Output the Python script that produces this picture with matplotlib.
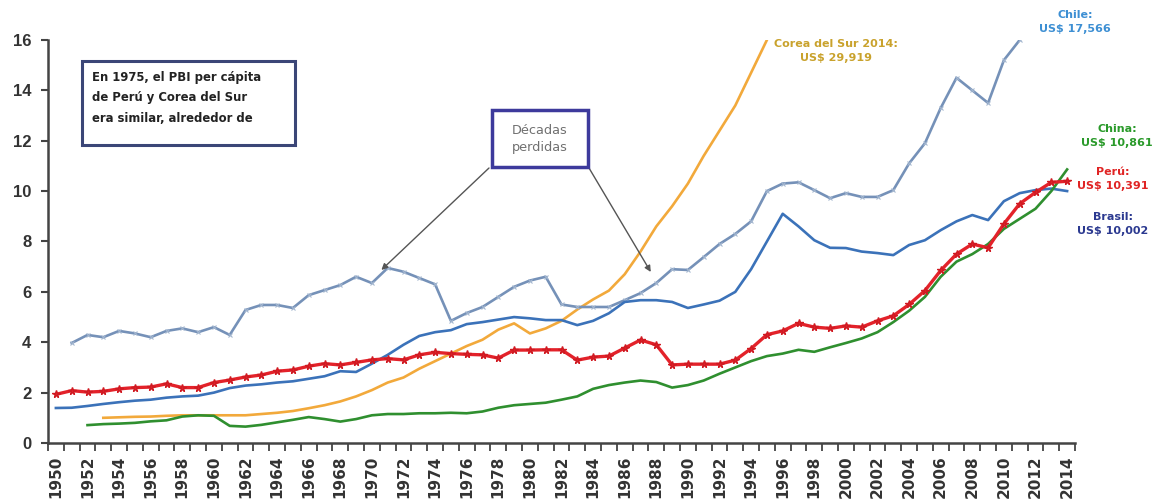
import matplotlib
matplotlib.use("Agg")
import matplotlib.pyplot as plt
from matplotlib.patches import Rectangle

# PBI per cápita (miles de US$ de 2014, PPA)
years = list(range(1950, 2015))

peru = [1.93, 2.08, 2.02, 2.05, 2.15, 2.20, 2.22, 2.35, 2.20, 2.20,
        2.40, 2.50, 2.62, 2.70, 2.85, 2.90, 3.05, 3.15, 3.10, 3.20,
        3.30, 3.35, 3.30, 3.50, 3.60, 3.55, 3.52, 3.50, 3.37, 3.69,
        3.69, 3.70, 3.70, 3.29, 3.41, 3.45, 3.77, 4.09, 3.90, 3.10,
        3.13, 3.13, 3.13, 3.29, 3.75, 4.30, 4.45, 4.75, 4.60, 4.55,
        4.65, 4.60, 4.85, 5.05, 5.50, 6.05, 6.85, 7.50, 7.90, 7.75,
        8.70, 9.50, 9.95, 10.35, 10.391]

brasil = [1.39, 1.40, 1.47, 1.55, 1.62, 1.68, 1.72, 1.80, 1.85, 1.88,
          2.00, 2.18, 2.28, 2.33, 2.40, 2.45, 2.55, 2.65, 2.85, 2.82,
          3.15, 3.50, 3.90, 4.25, 4.40, 4.48, 4.72, 4.80, 4.90, 5.00,
          4.95, 4.88, 4.88, 4.68, 4.85, 5.15, 5.60, 5.67, 5.67, 5.60,
          5.36, 5.50, 5.65, 6.00, 6.90, 8.00, 9.10, 8.60, 8.05, 7.75,
          7.74, 7.60, 7.54, 7.46, 7.86, 8.05, 8.45, 8.80, 9.05, 8.85,
          9.60, 9.92, 10.04, 10.10, 10.002]

chile_years = list(range(1951, 2012))
chile = [3.97, 4.29, 4.20, 4.45, 4.35, 4.20, 4.45, 4.55, 4.40,
         4.60, 4.29, 5.28, 5.48, 5.48, 5.36, 5.87, 6.07, 6.27, 6.60,
         6.35, 6.95, 6.80, 6.55, 6.30, 4.85, 5.16, 5.40, 5.80, 6.20,
         6.45, 6.60, 5.50, 5.40, 5.40, 5.40, 5.67, 5.95, 6.35, 6.90,
         6.87, 7.38, 7.90, 8.30, 8.80, 10.00, 10.30, 10.35, 10.04, 9.72,
         9.92, 9.77, 9.77, 10.04, 11.10, 11.90, 13.30, 14.50, 14.00, 13.50,
         15.20, 16.00]

china_years = list(range(1952, 2015))
china = [0.71, 0.75, 0.77, 0.80, 0.86, 0.90, 1.05, 1.10,
         1.08, 0.68, 0.65, 0.72, 0.82, 0.92, 1.03, 0.95, 0.85, 0.95,
         1.10, 1.15, 1.15, 1.18, 1.18, 1.20, 1.18, 1.25, 1.40, 1.50,
         1.55, 1.60, 1.72, 1.85, 2.15, 2.30, 2.40, 2.48, 2.42, 2.20,
         2.30, 2.48, 2.75, 3.00, 3.25, 3.45, 3.55, 3.70, 3.62, 3.80,
         3.97, 4.15, 4.40, 4.80, 5.25, 5.80, 6.60, 7.20, 7.50, 7.90,
         8.50, 8.90, 9.30, 10.00, 10.861]

corea_years = list(range(1953, 1996))
corea = [1.00, 1.02, 1.04, 1.05, 1.08, 1.10, 1.10,
         1.10, 1.10, 1.10, 1.15, 1.20, 1.27, 1.38, 1.50, 1.65, 1.85,
         2.10, 2.40, 2.60, 2.95, 3.25, 3.55, 3.85, 4.10, 4.50, 4.75,
         4.35, 4.55, 4.85, 5.30, 5.70, 6.05, 6.70, 7.60, 8.60, 9.40,
         10.30, 11.40, 12.40, 13.40, 14.70, 16.00]

y_ticks = list(range(0, 17, 2))
x_label_years = years[::2]

W, H = 1162, 504
fig = plt.figure(figsize=(W / 100, H / 100), dpi=100)
ax = fig.add_axes([48 / W, 1 - 443 / H, 1027 / W, 403 / H])


def px(x, y):
    """Pixel position (from top-left) to figure fraction."""
    return x / W, 1 - y / H


ax.plot(corea_years, corea, color="#f2a93b", lw=1.9, zorder=3)
ax.plot(china_years, china, color="#2f8f2f", lw=1.9, zorder=4)
ax.plot(chile_years, chile, color="#7591b8", lw=1.9, zorder=3,
        marker="x", ms=3, mew=0.8, mec="#a3b6cf")
ax.plot(years, brasil, color="#3b72b9", lw=1.9, zorder=3)
ax.plot(years, peru, color="#e3222a", lw=2.4, zorder=5,
        marker="*", ms=5.5, mec="#d01a22", mfc="#e3222a")

ax.set_xlim(1949.5, 2014.5)
ax.set_ylim(0, 16)

for side in ("top", "right"):
    ax.spines[side].set_visible(False)
for side in ("left", "bottom"):
    ax.spines[side].set_color("#444444")
    ax.spines[side].set_linewidth(1.8)

ax.set_yticks(y_ticks)
ax.set_yticklabels([str(v) for v in y_ticks], fontsize=12,
                   fontweight="bold", color="#333333",
                   fontfamily="Liberation Sans")
ax.tick_params(axis="y", direction="out", length=5, width=1.5,
               color="#444444", pad=7)

ax.set_xticks(x_label_years)
ax.set_xticklabels([str(v) for v in x_label_years], rotation=90,
                   fontsize=11, fontweight="bold", color="#333333",
                   fontfamily="DejaVu Sans")
ax.tick_params(axis="x", which="major", length=0, pad=9)
ax.set_xticks([y - 0.5 for y in years] + [2014.5], minor=True)
ax.tick_params(axis="x", which="minor", direction="out", length=6,
               width=1.3, color="#444444")

# Nota sobre 1975
fig.patches.append(Rectangle(px(82, 145), 213 / W, 84 / H,
                             transform=fig.transFigure, fill=True,
                             facecolor="white", edgecolor="#3b4677",
                             lw=2.2, zorder=6))
fig.text(*px(92, 71),
         "En 1975, el PBI per cápita\nde Perú y Corea del Sur\nera similar, alrededor de",
         ha="left", va="top", fontsize=8.4, fontweight="bold",
         fontfamily="DejaVu Sans", color="#222222", linespacing=1.75,
         zorder=7)

# Décadas perdidas
fig.patches.append(Rectangle(px(492, 167), 96 / W, 57 / H,
                             transform=fig.transFigure, fill=True,
                             facecolor="white", edgecolor="#3d3a9c",
                             lw=2.5, zorder=6))
fig.text(*px(540, 139), "Décadas\nperdidas", ha="center", va="center",
         fontsize=9.3, fontfamily="DejaVu Sans", color="#707070",
         linespacing=1.3, zorder=7)

arrow_kw = dict(arrowstyle="-|>", color="#555555", lw=1.0,
                mutation_scale=9, shrinkA=0, shrinkB=0)
ax.annotate("", xy=(1970.6, 6.87), xytext=px(489, 168),
            textcoords="figure fraction", arrowprops=arrow_kw,
            annotation_clip=False, zorder=6)
ax.annotate("", xy=(1987.65, 6.79), xytext=px(589, 168),
            textcoords="figure fraction", arrowprops=arrow_kw,
            annotation_clip=False, zorder=6)

# Etiquetas de valores 2014
lab = dict(ha="center", va="center", fontsize=8, fontweight="bold",
           fontfamily="DejaVu Sans", linespacing=1.6)
fig.text(*px(1075, 22), "Chile:\nUS$ 17,566", color="#3d8fd3", **lab)
fig.text(*px(836, 51), "Corea del Sur 2014:\nUS$ 29,919",
         color="#c9a22c", **lab)
fig.text(*px(1117, 136), "China:\nUS$ 10,861", color="#2a9a2a", **lab)
fig.text(*px(1113, 179), "Perú:\nUS$ 10,391", color="#e02424", **lab)
fig.text(*px(1113, 224), "Brasil:\nUS$ 10,002", color="#2b3990", **lab)

fig.savefig("out.png", dpi=100)
